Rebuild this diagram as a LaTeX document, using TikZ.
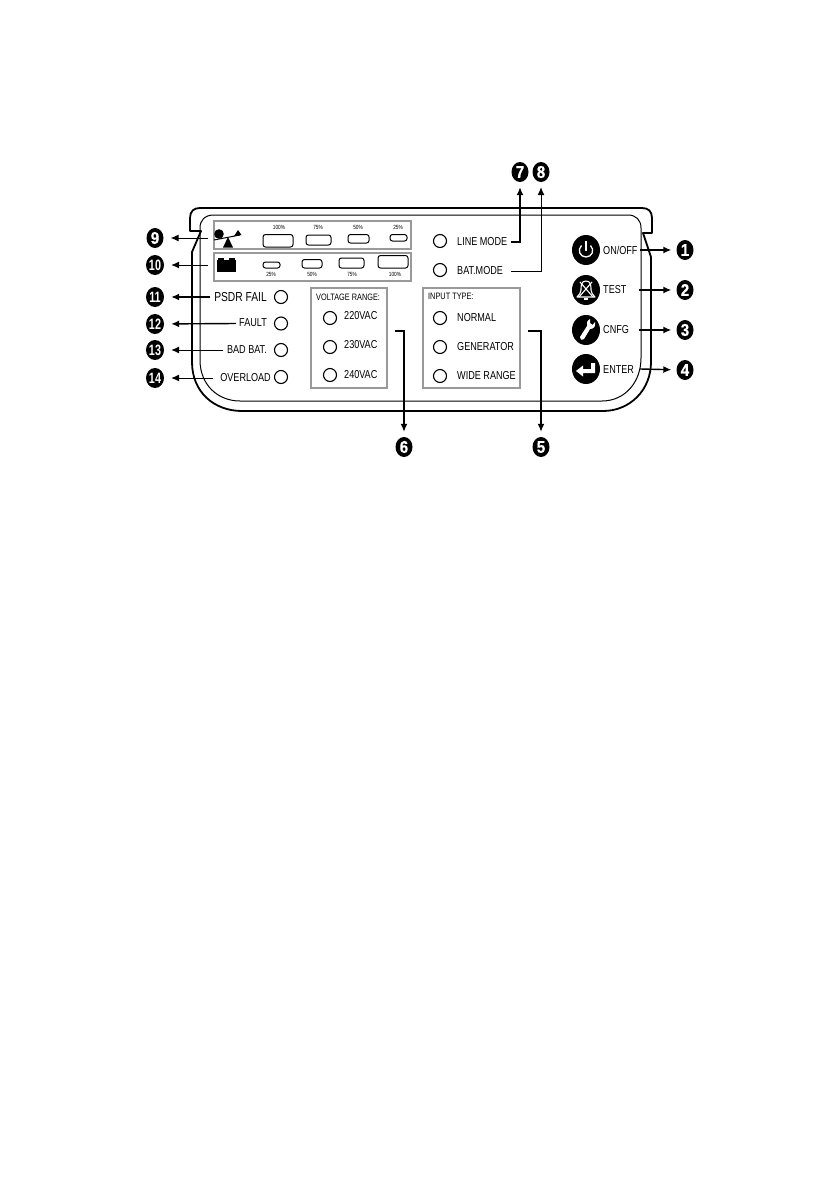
\documentclass[tikz,border=0pt]{standalone}
\usepackage{fontspec}
\setmainfont{Liberation Sans}
\newfontfamily\narrowf[FakeStretch=0.79]{Liberation Sans}
\newfontfamily\numf[FakeStretch=0.9,FakeBold=0.5]{Liberation Sans Bold}
\newfontfamily\numtf[FakeStretch=0.72]{Liberation Sans Bold}
\usetikzlibrary{arrows.meta,shapes.geometric}
\tikzset{
  num/.style={ellipse,fill=black,text=white,inner sep=0pt,minimum width=17pt,minimum height=20pt,font=\numf\fontsize{17}{17}\selectfont},
  numtwo/.style={ellipse,fill=black,text=white,inner sep=0pt,minimum width=18pt,minimum height=20pt,font=\numtf\fontsize{15}{15}\selectfont},
  led/.style={circle,draw=black,line width=1.1pt,minimum size=13pt,inner sep=0pt},
  lab/.style={inner sep=0pt,font=\narrowf\fontsize{11.5}{11.5}\selectfont},
  tiny/.style={inner sep=0pt,font=\narrowf\fontsize{6}{6}\selectfont},
  graybox/.style={draw=black!40,line width=1.7pt},
  bar/.style={draw=black,line width=1pt,rounded corners=2.5pt},
  btn/.style={ellipse,fill=black,minimum width=28pt,minimum height=30pt,inner sep=0pt},
  leader/.style={draw=black,line width=1pt,-{Latex[length=8pt,width=7pt]},shorten >=5pt},
  leaderb/.style={draw=black,line width=1.4pt,-{Latex[length=8pt,width=7pt]},shorten >=5pt},
}
\begin{document}
\begin{tikzpicture}[x=1pt,y=-1pt]
\useasboundingbox (0,0) rectangle (839,1191);
% outline
\draw[line width=1.8pt,line join=round] (201,231) -- (190,231) -- (190,218) .. controls (190,211) and (194,208) .. (200,208) -- (642,208) .. controls (648,208) and (652,211) .. (652,218) -- (652,233) -- (643,233) -- (651,257) -- (651,362) .. controls (651,390) and (630,411) .. (603,411) -- (242,411) .. controls (214,411) and (192,392) .. (192,362) -- (192,252) -- cycle;
\draw[line width=1pt] (200,231) -- (200,228) .. controls (200,220) and (205,215) .. (214,215) -- (628,215) .. controls (636,215) and (641,220) .. (641,228) -- (641,358) .. controls (641,382) and (625,401) .. (602,401) -- (240,401) .. controls (218,401) and (200,385) .. (200,360) -- cycle;
% gray boxes
\draw[graybox] (214,221) rectangle (411,249);
\draw[graybox] (214,253) rectangle (411,281);
\draw[graybox] (311,288) rectangle (387,388);
\draw[graybox] (423,288) rectangle (520,388);
% load bars
\draw[bar] (263,234.5) rectangle (293,247);
\draw[bar] (306,235) rectangle (331,245);
\draw[bar] (348,234.5) rectangle (369,243);
\draw[bar] (390,234.5) rectangle (407,241);
\node[tiny] (t1) at (279,227) {100\%};
\node[tiny] (t2) at (318,227) {75\%};
\node[tiny] (t3) at (358,227) {50\%};
\node[tiny] (t4) at (398,227) {25\%};
% battery bars
\draw[bar] (263,262) rectangle (280,268);
\draw[bar] (302,259.5) rectangle (322,268);
\draw[bar] (339,258) rectangle (364,268);
\draw[bar] (378,255.5) rectangle (408,268);
\node[tiny] (b1) at (271,274.5) {25\%};
\node[tiny] (b2) at (312,274.5) {50\%};
\node[tiny] (b3) at (352,274.5) {75\%};
\node[tiny] (b4) at (395,274.5) {100\%};
% seesaw
\fill (219,234) circle (4.8);
\draw[line width=1pt] (214,240) -- (240,235);
\fill (228,237) -- (233,247.5) -- (223,247.5) -- cycle;
\fill (238,230) -- (241.5,235) -- (234,236) -- cycle;
% battery
\fill (217,260) rectangle (236,272);
\fill (218,258) rectangle (224,261);
\fill (229,258) rectangle (235,261);
% leds and labels left
\node[led] (l11) at (281,297) {};
\node[led] (l12) at (281,323.5) {};
\node[led] (l13) at (281,350) {};
\node[led] (l14) at (281,377) {};
\node[lab,anchor=east,font=\narrowf\fontsize{13}{13}\selectfont] (psdr) at (267,297) {PSDR FAIL};
\node[lab,anchor=east] (fault) at (267,323) {FAULT};
\node[lab,anchor=east] (badbat) at (267,350) {BAD BAT.};
\node[lab,anchor=east] (over) at (271,378) {OVERLOAD};
% voltage
\node[lab,anchor=west,font=\narrowf\fontsize{9.3}{9.3}\selectfont] (vr) at (316,297) {VOLTAGE RANGE:};
\node[led] (v1) at (330,318) {};
\node[led] (v2) at (330,347) {};
\node[led] (v3) at (330,375) {};
\node[lab,anchor=west] (v220) at (344,316) {220VAC};
\node[lab,anchor=west] (v230) at (344,345) {230VAC};
\node[lab,anchor=west] (v240) at (344,375) {240VAC};
% input
\node[lab,anchor=west,font=\narrowf\fontsize{9.3}{9.3}\selectfont] (it) at (428,296.5) {INPUT TYPE:};
\node[led] (i1) at (440,318) {};
\node[led] (i2) at (440,347) {};
\node[led] (i3) at (440,376) {};
\node[lab,anchor=west] (inorm) at (457,318) {NORMAL};
\node[lab,anchor=west] (igen) at (457,347) {GENERATOR};
\node[lab,anchor=west] (iwide) at (457,376) {WIDE RANGE};
% modes
\node[led] (m1) at (440,241) {};
\node[led] (m2) at (440,270) {};
\node[lab,anchor=west] (line) at (457,242) {LINE MODE};
\node[lab,anchor=west] (bat) at (457,271) {BAT.MODE};
% buttons
\node[btn] (bon) at (586,250) {};
\node[btn] (btest) at (586,290) {};
\node[btn] (bcnfg) at (586,330) {};
\node[btn] (bent) at (586,369) {};
\node[lab,anchor=west] (ton) at (603,250) {ON/OFF};
\node[lab,anchor=west] (ttest) at (603,290) {TEST};
\node[lab,anchor=west] (tcnfg) at (603,330) {CNFG};
\node[lab,anchor=west] (tent) at (603,369.5) {ENTER};
% numbers
\node[num] (n1) at (685,250) {1};
\node[num] (n2) at (685,290) {2};
\node[num] (n3) at (685,330) {3};
\node[num] (n4) at (685,370) {4};
\node[num] (n5) at (541,447) {5};
\node[num] (n6) at (404,447) {6};
\node[num] (n7) at (520,172) {7};
\node[num] (n8) at (541,172) {8};
\node[num] (n9) at (155,238) {9};
\node[numtwo] (n10) at (155,265) {10};
\node[numtwo] (n11) at (155,297) {11};
\node[numtwo] (n12) at (155,324) {12};
\node[numtwo] (n13) at (155,350) {13};
\node[numtwo] (n14) at (155,378) {14};
% free ends
\coordinate (c1) at (640,250);
\coordinate (c2) at (639,290);
\coordinate (c3) at (639,330);
\coordinate (c4) at (640,369);
\coordinate (c5) at (528,331);
\coordinate (c6) at (395,331);
\coordinate (c7) at (511,242);
\coordinate (c8) at (511,271);
\coordinate (c9) at (208,238);
\coordinate (c10) at (208,265);
\coordinate (c11) at (210,297);
\coordinate (c12) at (236,323.5);
\coordinate (c13) at (223,350);
\coordinate (c14) at (213,378);
% leaders
\draw[leaderb] (c1) -- (n1);
\draw[leaderb] (c2) -- (n2);
\draw[leaderb] (c3) -- (n3);
\draw[leaderb] (c4) -- (n4);
\draw[leaderb] (c5) -| (n5);
\draw[leaderb] (c6) -| (n6);
\draw[leaderb] (c7) -| (n7);
\draw[leader] (c8) -| (n8);
\draw[leader,shorten >=7pt] (c9) -- (n9);
\draw[leader,shorten >=7pt] (c10) -- (n10);
\draw[leaderb,shorten >=7pt] (c11) -- (n11);
\draw[leaderb,shorten >=7pt] (c12) -- (n12);
\draw[leader,shorten >=7pt] (c13) -- (n13);
\draw[leader,shorten >=7pt] (c14) -- (n14);
% power icon
\draw[white,line width=1.3pt] (581.5,245.5) .. controls (577,250) and (580,257) .. (586,257) .. controls (592,257) and (595,250) .. (590.5,245.5);
\draw[white,line width=1.3pt] (586,241) -- (586,251);
% bell icon
\draw[white,line width=1.1pt,line join=round] (586,281) .. controls (581,281) and (581,286) .. (581,290) .. controls (581,293) and (579,295) .. (577,297) -- (595,297) .. controls (593,295) and (591,293) .. (591,290) .. controls (591,286) and (591,281) .. (586,281) -- cycle;
\draw[white,line width=1.1pt] (580,282) -- (593,297) (592,282) -- (579,297);
\fill[white] (584,298) rectangle (588,300);
% wrench icon
\fill[white] (590,319) .. controls (587,321) and (586,323) .. (587,326) -- (580,337) .. controls (581,340) and (582,341) .. (584,339) -- (590,329) .. controls (594,329) and (596,326) .. (595,322) -- (592.5,325) -- (590,323) -- cycle;
% enter icon
\fill[white] (591,363) -- (595,363) -- (595,373) -- (583,373) -- (583,376.5) -- (576,371) -- (583,365.5) -- (583,369) -- (591,369) -- cycle;
\end{tikzpicture}
\end{document}
